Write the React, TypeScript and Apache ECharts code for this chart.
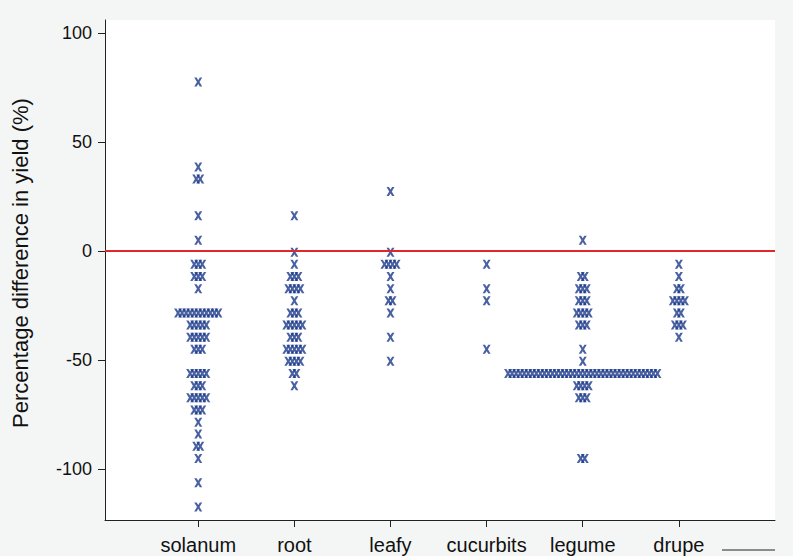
import React, { useEffect, useRef } from "react";
import * as echarts from "echarts";

const categories = ["solanum", "root", "leafy", "cucurbits", "legume", "drupe"];

// [bin value (%), number of observations in the bin]
const solanumBins: [number, number][] = [
  [77.5, 1], [38.5, 1], [33, 2], [16.2, 1], [5.0, 1], [-6.1, 3], [-11.7, 3], [-17.3, 1],
  [-28.4, 11], [-33.9, 5], [-39.5, 5], [-45.1, 3], [-56.2, 5], [-61.8, 3], [-67.3, 5],
  [-72.9, 3], [-78.5, 1], [-84.0, 1], [-89.6, 2], [-95.2, 1], [-106.3, 1], [-117.4, 1],
];
const rootBins: [number, number][] = [
  [16.2, 1], [-0.6, 1], [-6.1, 1], [-11.7, 3], [-17.3, 4], [-22.8, 1], [-28.4, 3],
  [-33.9, 5], [-39.5, 3], [-45.1, 5], [-50.6, 4], [-56.2, 2], [-61.8, 1],
];
const leafyBins: [number, number][] = [
  [27.3, 1], [-0.6, 1], [-6.1, 4], [-11.7, 1], [-17.3, 1], [-22.8, 2], [-28.4, 1],
  [-39.5, 1], [-50.6, 1],
];
const cucurbitsBins: [number, number][] = [
  [-6.1, 1], [-17.3, 1], [-22.8, 1], [-45.1, 1],
];
const legumeBins: [number, number][] = [
  [5.0, 1], [-11.7, 2], [-17.3, 3], [-22.8, 3], [-28.4, 4], [-33.9, 3], [-45.1, 1],
  [-50.6, 1], [-56.2, 38], [-61.8, 4], [-67.3, 3], [-95.2, 2],
];
const drupeBins: [number, number][] = [
  [-6.1, 1], [-11.7, 1], [-17.3, 2], [-22.8, 4], [-28.4, 2], [-33.9, 3], [-39.5, 1],
];

const groups = [solanumBins, rootBins, leafyBins, cucurbitsBins, legumeBins, drupeBins];
const yTicks = [-100, -50, 0, 50, 100];
const xTicks = [1, 2, 3, 4, 5, 6];
const yTitle = "Percentage difference in yield (%)";

const DOT_STEP = 0.042; // horizontal spacing of stacked dots, x-axis units

const XMARK =
  "path://M0,0 L3,0 L5,3.4 L7,0 L10,0 L6.6,6 L10,12 L7,12 L5,8.6 L3,12 L0,12 L3.4,6 Z";

export default function App() {
  const ref = useRef<HTMLDivElement>(null);
  useEffect(() => {
    if (!ref.current) return;
    const chart = echarts.init(ref.current, null, { renderer: "svg" });
    const points: number[][] = [];
    groups.forEach((bins, gi) => {
      bins.forEach(([v, n]) => {
        for (let k = 0; k < n; k++) {
          points.push([gi + 1 + (k - (n - 1) / 2) * DOT_STEP, v]);
        }
      });
    });
    const font = "'Liberation Sans', Arial, sans-serif";
    chart.setOption({
      animation: false,
      backgroundColor: "#f4f6f6",
      textStyle: { fontFamily: font },
      grid: {
        left: 105,
        right: 18,
        top: 20,
        bottom: 36,
        show: true,
        backgroundColor: "#ffffff",
        borderWidth: 0,
      },
      xAxis: {
        type: "value",
        min: 0.03,
        max: 7.0,
        splitLine: { show: false },
        axisLine: { show: true, onZero: false, lineStyle: { color: "#222", width: 1 } },
        axisTick: { show: true, customValues: xTicks, length: 7, lineStyle: { color: "#222" } },
        axisLabel: {
          customValues: xTicks,
          formatter: (v: number) => categories[Math.round(v) - 1] ?? "",
          color: "#111",
          fontSize: 20,
          fontFamily: font,
          margin: 15,
        },
      },
      yAxis: {
        type: "value",
        min: -123.4,
        max: 106,
        splitLine: { show: false },
        axisLine: { show: true, onZero: false, lineStyle: { color: "#222", width: 1 } },
        axisTick: { show: true, customValues: yTicks, length: 7, lineStyle: { color: "#222" } },
        axisLabel: {
          customValues: yTicks,
          color: "#111",
          fontSize: 18,
          fontFamily: font,
          margin: 13,
        },
      },
      graphic: [
        {
          type: "text",
          x: 20,
          y: 263,
          rotation: Math.PI / 2,
          style: {
            text: yTitle,
            fontSize: 22,
            fontFamily: font,
            fill: "#111",
            align: "center",
            verticalAlign: "middle",
          },
        },
        {
          type: "line",
          shape: { x1: 722, y1: 550, x2: 775, y2: 550 },
          style: { stroke: "#222", lineWidth: 1 },
        },
      ],
      series: [
        {
          type: "scatter",
          data: points,
          symbol: XMARK,
          symbolSize: [8, 9],
          itemStyle: { color: "#1c3a8a" },
          markLine: {
            silent: true,
            symbol: ["none", "none"],
            label: { show: false },
            lineStyle: { color: "#e3262b", width: 2, type: "solid" },
            data: [{ yAxis: 0 }],
          },
          z: 3,
        },
      ],
    });
    return () => chart.dispose();
  }, []);
  return (
    <div
      ref={ref}
      style={{ position: "fixed", left: 0, top: 0, width: 793, height: 556 }}
    />
  );
}
